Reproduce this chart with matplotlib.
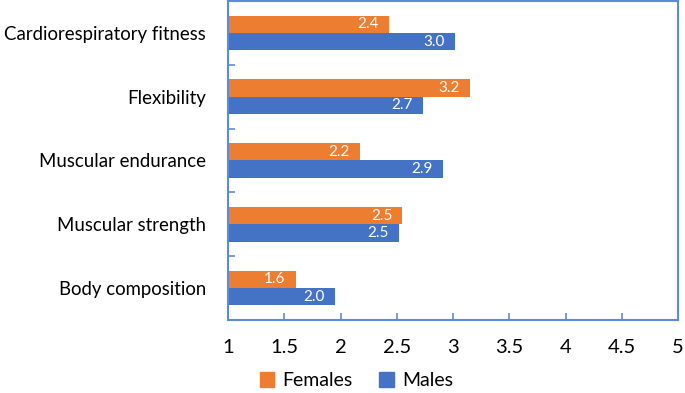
import matplotlib
matplotlib.use("Agg")
import matplotlib.pyplot as plt
from matplotlib.patches import Patch
import numpy as np

categories = ["Body composition", "Muscular strength", "Muscular endurance",
              "Flexibility", "Cardiorespiratory fitness"]
females = [1.60, 2.55, 2.17, 3.15, 2.43]
males = [1.95, 2.52, 2.91, 2.73, 3.02]
female_labels = ["1.6", "2.5", "2.2", "3.2", "2.4"]
male_labels = ["2.0", "2.5", "2.9", "2.7", "3.0"]
xticks = [1, 1.5, 2, 2.5, 3, 3.5, 4, 4.5, 5]
xticklabels = ["1", "1.5", "2", "2.5", "3", "3.5", "4", "4.5", "5"]

ORANGE = "#ED7D31"
BLUE = "#4472C4"
FRAME = "#5B8BDB"
FONT = "Lato"

fig = plt.figure(figsize=(6.85, 3.93), dpi=100)
ax = fig.add_axes([228/685, 1 - 320/393, (678-228)/685, (320-1)/393])

y = np.arange(len(categories))
h = 0.27
bf = ax.barh(y + h/2, np.array(females) - 1, left=1, height=h, color=ORANGE)
bm = ax.barh(y - h/2, np.array(males) - 1, left=1, height=h, color=BLUE)

for rects, labs in ((bf, female_labels), (bm, male_labels)):
    for r, lab in zip(rects, labs):
        ax.text(r.get_x() + r.get_width() - 0.09, r.get_y() + r.get_height()/2, lab,
                ha="right", va="center", color="white", fontsize=11, family=FONT)

ax.set_xlim(1, 5)
ax.set_ylim(-0.5, len(categories) - 0.5)
ax.set_xticks(xticks)
ax.set_xticklabels(xticklabels, fontsize=14.5, family=FONT)
ax.set_yticks(y)
ax.set_yticklabels(categories, fontsize=13.4, family=FONT)
ax.set_yticks(np.arange(len(categories) - 1) + 0.5, minor=True)
ax.tick_params(axis="y", which="major", length=0, pad=16)
ax.tick_params(axis="y", which="minor", direction="in", length=5, color=FRAME, width=1.2)
ax.tick_params(axis="x", direction="in", length=5, color=FRAME, width=1.2, pad=14)
for s in ax.spines.values():
    s.set_color(FRAME)
    s.set_linewidth(1.5)

handles = [Patch(color=ORANGE, label="Females"), Patch(color=BLUE, label="Males")]
fig.legend(handles=handles, loc="lower center", bbox_to_anchor=(0.52, -0.035), ncol=2,
           frameon=False, prop={"family": FONT, "size": 14}, handlelength=0.75,
           handleheight=0.75, handletextpad=0.4, columnspacing=1.4)

fig.savefig("out.png", dpi=100)
